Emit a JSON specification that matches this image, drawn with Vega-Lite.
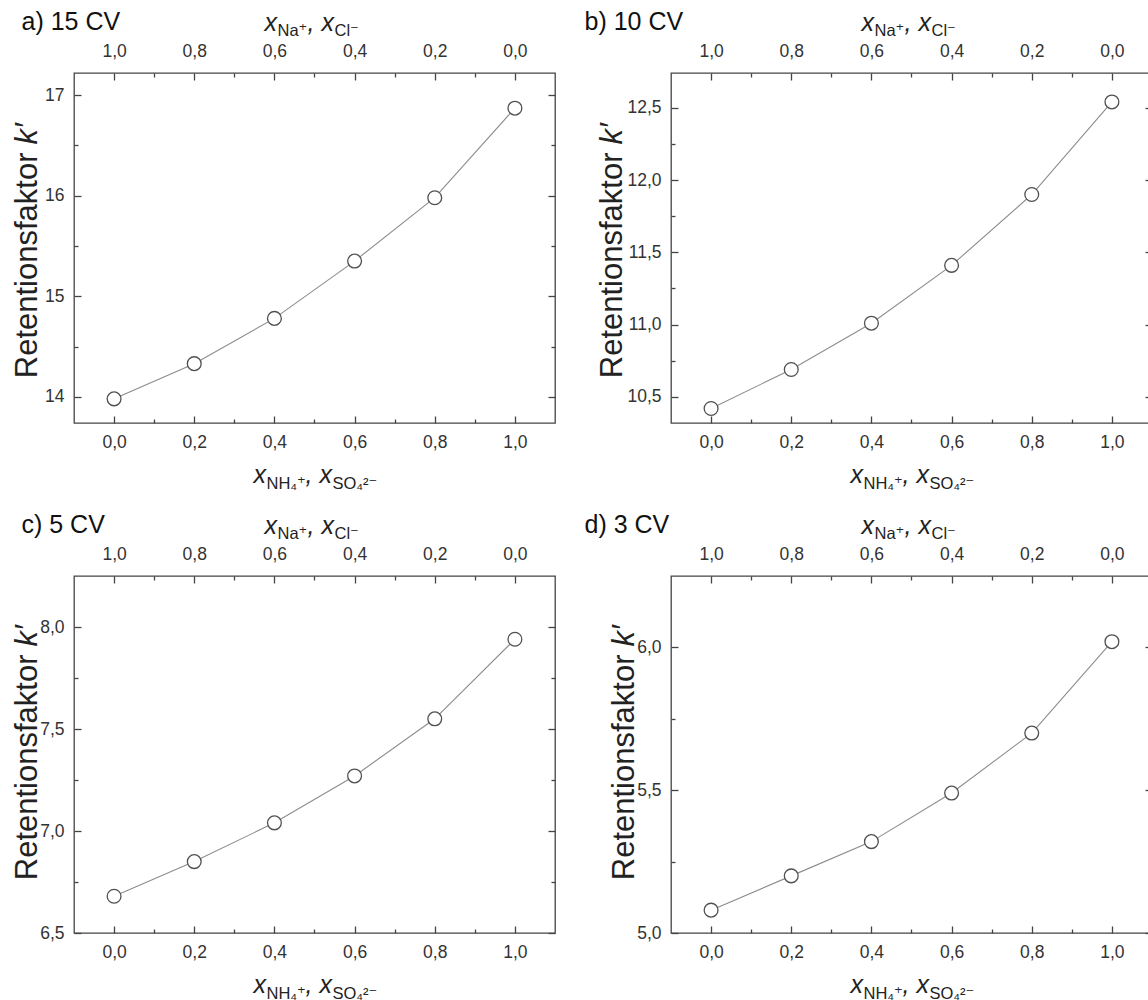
{
"$schema":"https://vega.github.io/schema/vega-lite/v6.json",
"padding":{"left":10,"top":8,"right":0,"bottom":0},
"bounds":"flush",
"columns":2,
"spacing":{"row":153,"column":116},
"datasets":{
"a":[{"x":0,"k":13.98},{"x":0.2,"k":14.33},{"x":0.4,"k":14.78},{"x":0.6,"k":15.35},{"x":0.8,"k":15.98},{"x":1,"k":16.87}],
"b":[{"x":0,"k":10.42},{"x":0.2,"k":10.69},{"x":0.4,"k":11.01},{"x":0.6,"k":11.41},{"x":0.8,"k":11.9},{"x":1,"k":12.54}],
"c":[{"x":0,"k":6.68},{"x":0.2,"k":6.85},{"x":0.4,"k":7.04},{"x":0.6,"k":7.27},{"x":0.8,"k":7.55},{"x":1,"k":7.94}],
"d":[{"x":0,"k":5.08},{"x":0.2,"k":5.2},{"x":0.4,"k":5.32},{"x":0.6,"k":5.49},{"x":0.8,"k":5.7},{"x":1,"k":6.02}]
},
"concat":[
{"width":481,"height":350,"data":{"name":"a"},
"layer":[
{"mark":{"type":"line","color":"#8c8c8c","strokeWidth":1.1},
"encoding":{
"x":{"field":"x","type":"quantitative","scale":{"domain":[-0.1,1.1],"nice":false,"zero":false},
"axis":{"orient":"bottom","values":[0,0.2,0.4,0.6,0.8,1],"labelExpr":"replace(format(datum.value,'.1f'),'.',',')","tickSize":-7,"labelPadding":17,"title":"x","titleFontStyle":"italic","titleFontSize":25,"titleX":179,"titleY":59,"titleAlign":"left"}},
"y":{"field":"k","type":"quantitative","scale":{"domain":[13.74,17.22],"nice":false,"zero":false},
"axis":{"orient":"left","values":[14,15,16,17],"labelExpr":"format(datum.value,'.0f')","tickSize":-7,"labelPadding":17,"title":"Retentionsfaktor","titleFontSize":31,"titleAngle":270,"titleX":-38,"titleY":79,"titleAlign":"right"}}}},
{"mark":{"type":"point","shape":"circle","filled":true,"fill":"#ffffff","stroke":"#505050","strokeWidth":1.3,"size":190,"opacity":1},
"encoding":{
"x":{"field":"x","type":"quantitative","axis":{"orient":"bottom","values":[0.1,0.3,0.5,0.7,0.9],"labels":false,"tickSize":-4,"title":"NH₄⁺","titleFontSize":16.5,"titleX":192,"titleY":65,"titleAlign":"left"}},
"y":{"field":"k","type":"quantitative","axis":{"orient":"left","values":[14.5,15.5,16.5],"labels":false,"tickSize":-4,"title":"k′","titleFontStyle":"italic","titleFontSize":31,"titleAngle":270,"titleX":-38,"titleY":71,"titleAlign":"left"}}}},
{"mark":{"type":"point","opacity":0},
"encoding":{
"x":{"field":"x","type":"quantitative","axis":{"orient":"top","values":[0,0.2,0.4,0.6,0.8,1],"labelExpr":"replace(format(1-datum.value,'.1f'),'.',',')","tickSize":-7,"labelPadding":20,"title":"x","titleFontStyle":"italic","titleFontSize":25,"titleX":190,"titleY":-43,"titleAlign":"left"}},
"y":{"field":"k","type":"quantitative","axis":{"orient":"right","values":[14,15,16,17],"labels":false,"tickSize":-7,"title":"a) 15 CV","titleFontSize":25,"titleAngle":0,"titleX":-534,"titleY":-44,"titleAlign":"left","titleColor":"#111111"}}}},
{"mark":{"type":"point","opacity":0},
"encoding":{
"x":{"field":"x","type":"quantitative","axis":{"orient":"top","values":[0.1,0.3,0.5,0.7,0.9],"labels":false,"tickSize":-4,"title":"Na⁺","titleFontSize":16.5,"titleX":203,"titleY":-38,"titleAlign":"left"}},
"y":{"field":"k","type":"quantitative","axis":{"orient":"right","values":[14.5,15.5,16.5],"labels":false,"tickSize":-4,"title":null}}}},
{"mark":{"type":"point","opacity":0},"encoding":{"x":{"field":"x","type":"quantitative","axis":{"orient":"bottom","ticks":false,"labels":false,"title":", x","titleFontStyle":"italic","titleFontSize":25,"titleX":231,"titleY":59,"titleAlign":"left"}},"y":{"field":"k","type":"quantitative","axis":null}}},
{"mark":{"type":"point","opacity":0},"encoding":{"x":{"field":"x","type":"quantitative","axis":{"orient":"bottom","ticks":false,"labels":false,"title":"SO₄²⁻","titleFontSize":16.5,"titleX":258,"titleY":65,"titleAlign":"left"}},"y":{"field":"k","type":"quantitative","axis":null}}},
{"mark":{"type":"point","opacity":0},"encoding":{"x":{"field":"x","type":"quantitative","axis":{"orient":"top","ticks":false,"labels":false,"title":", x","titleFontStyle":"italic","titleFontSize":25,"titleX":233,"titleY":-43,"titleAlign":"left"}},"y":{"field":"k","type":"quantitative","axis":null}}},
{"mark":{"type":"point","opacity":0},"encoding":{"x":{"field":"x","type":"quantitative","axis":{"orient":"top","ticks":false,"labels":false,"title":"Cl⁻","titleFontSize":16.5,"titleX":260,"titleY":-38,"titleAlign":"left"}},"y":{"field":"k","type":"quantitative","axis":null}}}
],
"resolve":{"axis":{"x":"independent","y":"independent"}}},
{"width":481,"height":350,"data":{"name":"b"},
"layer":[
{"mark":{"type":"line","color":"#8c8c8c","strokeWidth":1.1},
"encoding":{
"x":{"field":"x","type":"quantitative","scale":{"domain":[-0.1,1.1],"nice":false,"zero":false},
"axis":{"orient":"bottom","values":[0,0.2,0.4,0.6,0.8,1],"labelExpr":"replace(format(datum.value,'.1f'),'.',',')","tickSize":-7,"labelPadding":17,"title":"x","titleFontStyle":"italic","titleFontSize":25,"titleX":179,"titleY":59,"titleAlign":"left"}},
"y":{"field":"k","type":"quantitative","scale":{"domain":[10.32,12.74],"nice":false,"zero":false},
"axis":{"orient":"left","values":[10.5,11,11.5,12,12.5],"labelExpr":"replace(format(datum.value,'.1f'),'.',',')","tickSize":-7,"labelPadding":17,"title":"Retentionsfaktor","titleFontSize":31,"titleAngle":270,"titleX":-50,"titleY":79,"titleAlign":"right"}}}},
{"mark":{"type":"point","shape":"circle","filled":true,"fill":"#ffffff","stroke":"#505050","strokeWidth":1.3,"size":190,"opacity":1},
"encoding":{
"x":{"field":"x","type":"quantitative","axis":{"orient":"bottom","values":[0.1,0.3,0.5,0.7,0.9],"labels":false,"tickSize":-4,"title":"NH₄⁺","titleFontSize":16.5,"titleX":192,"titleY":65,"titleAlign":"left"}},
"y":{"field":"k","type":"quantitative","axis":{"orient":"left","values":[10.75,11.25,11.75,12.25],"labels":false,"tickSize":-4,"title":"k′","titleFontStyle":"italic","titleFontSize":31,"titleAngle":270,"titleX":-50,"titleY":71,"titleAlign":"left"}}}},
{"mark":{"type":"point","opacity":0},
"encoding":{
"x":{"field":"x","type":"quantitative","axis":{"orient":"top","values":[0,0.2,0.4,0.6,0.8,1],"labelExpr":"replace(format(1-datum.value,'.1f'),'.',',')","tickSize":-7,"labelPadding":20,"title":"x","titleFontStyle":"italic","titleFontSize":25,"titleX":190,"titleY":-43,"titleAlign":"left"}},
"y":{"field":"k","type":"quantitative","axis":{"orient":"right","values":[10.5,11,11.5,12,12.5],"labels":false,"tickSize":-7,"title":"b) 10 CV","titleFontSize":25,"titleAngle":0,"titleX":-568,"titleY":-44,"titleAlign":"left","titleColor":"#111111"}}}},
{"mark":{"type":"point","opacity":0},
"encoding":{
"x":{"field":"x","type":"quantitative","axis":{"orient":"top","values":[0.1,0.3,0.5,0.7,0.9],"labels":false,"tickSize":-4,"title":"Na⁺","titleFontSize":16.5,"titleX":203,"titleY":-38,"titleAlign":"left"}},
"y":{"field":"k","type":"quantitative","axis":{"orient":"right","values":[10.75,11.25,11.75,12.25],"labels":false,"tickSize":-4,"title":null}}}},
{"mark":{"type":"point","opacity":0},"encoding":{"x":{"field":"x","type":"quantitative","axis":{"orient":"bottom","ticks":false,"labels":false,"title":", x","titleFontStyle":"italic","titleFontSize":25,"titleX":231,"titleY":59,"titleAlign":"left"}},"y":{"field":"k","type":"quantitative","axis":null}}},
{"mark":{"type":"point","opacity":0},"encoding":{"x":{"field":"x","type":"quantitative","axis":{"orient":"bottom","ticks":false,"labels":false,"title":"SO₄²⁻","titleFontSize":16.5,"titleX":258,"titleY":65,"titleAlign":"left"}},"y":{"field":"k","type":"quantitative","axis":null}}},
{"mark":{"type":"point","opacity":0},"encoding":{"x":{"field":"x","type":"quantitative","axis":{"orient":"top","ticks":false,"labels":false,"title":", x","titleFontStyle":"italic","titleFontSize":25,"titleX":233,"titleY":-43,"titleAlign":"left"}},"y":{"field":"k","type":"quantitative","axis":null}}},
{"mark":{"type":"point","opacity":0},"encoding":{"x":{"field":"x","type":"quantitative","axis":{"orient":"top","ticks":false,"labels":false,"title":"Cl⁻","titleFontSize":16.5,"titleX":260,"titleY":-38,"titleAlign":"left"}},"y":{"field":"k","type":"quantitative","axis":null}}}
],
"resolve":{"axis":{"x":"independent","y":"independent"}}},
{"width":481,"height":357,"data":{"name":"c"},
"layer":[
{"mark":{"type":"line","color":"#8c8c8c","strokeWidth":1.1},
"encoding":{
"x":{"field":"x","type":"quantitative","scale":{"domain":[-0.1,1.1],"nice":false,"zero":false},
"axis":{"orient":"bottom","values":[0,0.2,0.4,0.6,0.8,1],"labelExpr":"replace(format(datum.value,'.1f'),'.',',')","tickSize":-7,"labelPadding":17,"title":"x","titleFontStyle":"italic","titleFontSize":25,"titleX":179,"titleY":59,"titleAlign":"left"}},
"y":{"field":"k","type":"quantitative","scale":{"domain":[6.5,8.25],"nice":false,"zero":false},
"axis":{"orient":"left","values":[6.5,7,7.5,8],"labelExpr":"replace(format(datum.value,'.1f'),'.',',')","tickSize":-7,"labelPadding":17,"title":"Retentionsfaktor","titleFontSize":31,"titleAngle":270,"titleX":-38,"titleY":78,"titleAlign":"right"}}}},
{"mark":{"type":"point","shape":"circle","filled":true,"fill":"#ffffff","stroke":"#505050","strokeWidth":1.3,"size":190,"opacity":1},
"encoding":{
"x":{"field":"x","type":"quantitative","axis":{"orient":"bottom","values":[0.1,0.3,0.5,0.7,0.9],"labels":false,"tickSize":-4,"title":"NH₄⁺","titleFontSize":16.5,"titleX":192,"titleY":65,"titleAlign":"left"}},
"y":{"field":"k","type":"quantitative","axis":{"orient":"left","values":[6.75,7.25,7.75],"labels":false,"tickSize":-4,"title":"k′","titleFontStyle":"italic","titleFontSize":31,"titleAngle":270,"titleX":-38,"titleY":70,"titleAlign":"left"}}}},
{"mark":{"type":"point","opacity":0},
"encoding":{
"x":{"field":"x","type":"quantitative","axis":{"orient":"top","values":[0,0.2,0.4,0.6,0.8,1],"labelExpr":"replace(format(1-datum.value,'.1f'),'.',',')","tickSize":-7,"labelPadding":20,"title":"x","titleFontStyle":"italic","titleFontSize":25,"titleX":190,"titleY":-43,"titleAlign":"left"}},
"y":{"field":"k","type":"quantitative","axis":{"orient":"right","values":[6.5,7,7.5,8],"labels":false,"tickSize":-7,"title":"c) 5 CV","titleFontSize":25,"titleAngle":0,"titleX":-534,"titleY":-44,"titleAlign":"left","titleColor":"#111111"}}}},
{"mark":{"type":"point","opacity":0},
"encoding":{
"x":{"field":"x","type":"quantitative","axis":{"orient":"top","values":[0.1,0.3,0.5,0.7,0.9],"labels":false,"tickSize":-4,"title":"Na⁺","titleFontSize":16.5,"titleX":203,"titleY":-38,"titleAlign":"left"}},
"y":{"field":"k","type":"quantitative","axis":{"orient":"right","values":[6.75,7.25,7.75],"labels":false,"tickSize":-4,"title":null}}}},
{"mark":{"type":"point","opacity":0},"encoding":{"x":{"field":"x","type":"quantitative","axis":{"orient":"bottom","ticks":false,"labels":false,"title":", x","titleFontStyle":"italic","titleFontSize":25,"titleX":231,"titleY":59,"titleAlign":"left"}},"y":{"field":"k","type":"quantitative","axis":null}}},
{"mark":{"type":"point","opacity":0},"encoding":{"x":{"field":"x","type":"quantitative","axis":{"orient":"bottom","ticks":false,"labels":false,"title":"SO₄²⁻","titleFontSize":16.5,"titleX":258,"titleY":65,"titleAlign":"left"}},"y":{"field":"k","type":"quantitative","axis":null}}},
{"mark":{"type":"point","opacity":0},"encoding":{"x":{"field":"x","type":"quantitative","axis":{"orient":"top","ticks":false,"labels":false,"title":", x","titleFontStyle":"italic","titleFontSize":25,"titleX":233,"titleY":-43,"titleAlign":"left"}},"y":{"field":"k","type":"quantitative","axis":null}}},
{"mark":{"type":"point","opacity":0},"encoding":{"x":{"field":"x","type":"quantitative","axis":{"orient":"top","ticks":false,"labels":false,"title":"Cl⁻","titleFontSize":16.5,"titleX":260,"titleY":-38,"titleAlign":"left"}},"y":{"field":"k","type":"quantitative","axis":null}}}
],
"resolve":{"axis":{"x":"independent","y":"independent"}}},
{"width":481,"height":357,"data":{"name":"d"},
"layer":[
{"mark":{"type":"line","color":"#8c8c8c","strokeWidth":1.1},
"encoding":{
"x":{"field":"x","type":"quantitative","scale":{"domain":[-0.1,1.1],"nice":false,"zero":false},
"axis":{"orient":"bottom","values":[0,0.2,0.4,0.6,0.8,1],"labelExpr":"replace(format(datum.value,'.1f'),'.',',')","tickSize":-7,"labelPadding":17,"title":"x","titleFontStyle":"italic","titleFontSize":25,"titleX":179,"titleY":59,"titleAlign":"left"}},
"y":{"field":"k","type":"quantitative","scale":{"domain":[5,6.25],"nice":false,"zero":false},
"axis":{"orient":"left","values":[5,5.5,6],"labelExpr":"replace(format(datum.value,'.1f'),'.',',')","tickSize":-7,"labelPadding":17,"title":"Retentionsfaktor","titleFontSize":31,"titleAngle":270,"titleX":-38,"titleY":78,"titleAlign":"right"}}}},
{"mark":{"type":"point","shape":"circle","filled":true,"fill":"#ffffff","stroke":"#505050","strokeWidth":1.3,"size":190,"opacity":1},
"encoding":{
"x":{"field":"x","type":"quantitative","axis":{"orient":"bottom","values":[0.1,0.3,0.5,0.7,0.9],"labels":false,"tickSize":-4,"title":"NH₄⁺","titleFontSize":16.5,"titleX":192,"titleY":65,"titleAlign":"left"}},
"y":{"field":"k","type":"quantitative","axis":{"orient":"left","values":[5.25,5.75],"labels":false,"tickSize":-4,"title":"k′","titleFontStyle":"italic","titleFontSize":31,"titleAngle":270,"titleX":-38,"titleY":70,"titleAlign":"left"}}}},
{"mark":{"type":"point","opacity":0},
"encoding":{
"x":{"field":"x","type":"quantitative","axis":{"orient":"top","values":[0,0.2,0.4,0.6,0.8,1],"labelExpr":"replace(format(1-datum.value,'.1f'),'.',',')","tickSize":-7,"labelPadding":20,"title":"x","titleFontStyle":"italic","titleFontSize":25,"titleX":190,"titleY":-43,"titleAlign":"left"}},
"y":{"field":"k","type":"quantitative","axis":{"orient":"right","values":[5,5.5,6],"labels":false,"tickSize":-7,"title":"d) 3 CV","titleFontSize":25,"titleAngle":0,"titleX":-568,"titleY":-44,"titleAlign":"left","titleColor":"#111111"}}}},
{"mark":{"type":"point","opacity":0},
"encoding":{
"x":{"field":"x","type":"quantitative","axis":{"orient":"top","values":[0.1,0.3,0.5,0.7,0.9],"labels":false,"tickSize":-4,"title":"Na⁺","titleFontSize":16.5,"titleX":203,"titleY":-38,"titleAlign":"left"}},
"y":{"field":"k","type":"quantitative","axis":{"orient":"right","values":[5.25,5.75],"labels":false,"tickSize":-4,"title":null}}}},
{"mark":{"type":"point","opacity":0},"encoding":{"x":{"field":"x","type":"quantitative","axis":{"orient":"bottom","ticks":false,"labels":false,"title":", x","titleFontStyle":"italic","titleFontSize":25,"titleX":231,"titleY":59,"titleAlign":"left"}},"y":{"field":"k","type":"quantitative","axis":null}}},
{"mark":{"type":"point","opacity":0},"encoding":{"x":{"field":"x","type":"quantitative","axis":{"orient":"bottom","ticks":false,"labels":false,"title":"SO₄²⁻","titleFontSize":16.5,"titleX":258,"titleY":65,"titleAlign":"left"}},"y":{"field":"k","type":"quantitative","axis":null}}},
{"mark":{"type":"point","opacity":0},"encoding":{"x":{"field":"x","type":"quantitative","axis":{"orient":"top","ticks":false,"labels":false,"title":", x","titleFontStyle":"italic","titleFontSize":25,"titleX":233,"titleY":-43,"titleAlign":"left"}},"y":{"field":"k","type":"quantitative","axis":null}}},
{"mark":{"type":"point","opacity":0},"encoding":{"x":{"field":"x","type":"quantitative","axis":{"orient":"top","ticks":false,"labels":false,"title":"Cl⁻","titleFontSize":16.5,"titleX":260,"titleY":-38,"titleAlign":"left"}},"y":{"field":"k","type":"quantitative","axis":null}}}
],
"resolve":{"axis":{"x":"independent","y":"independent"}}}
],
"config":{
"font":"Liberation Sans, Arial, DejaVu Sans, sans-serif",
"view":{"stroke":"#444444","strokeWidth":1.3},
"axis":{"domain":false,"grid":false,"labelFont":"Liberation Sans, Arial, sans-serif","labelFontSize":17.5,"labelColor":"#333333","tickColor":"#444444","tickWidth":1.3,"titleFont":"Liberation Sans, DejaVu Sans, sans-serif","titleColor":"#222222","titleFontWeight":"normal","titleBaseline":"alphabetic","labelOverlap":false}
}
}
